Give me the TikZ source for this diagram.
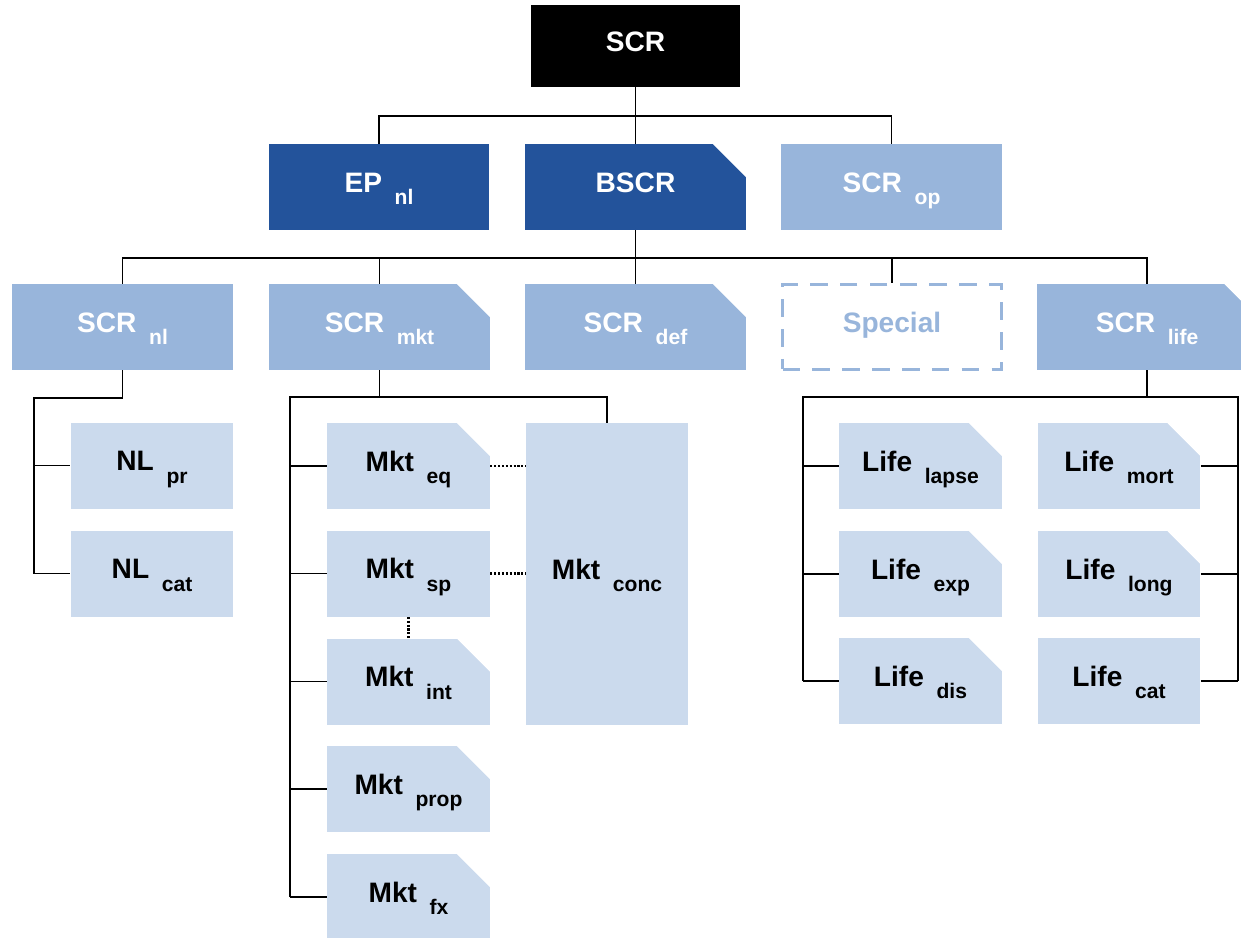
\documentclass[tikz,border=0pt]{standalone}
\usepackage{fontspec}
\setmainfont{Liberation Sans}
\usepackage{tikz}
\usetikzlibrary{calc}

\definecolor{darkblue}{RGB}{35,83,155}
\definecolor{midblue}{RGB}{152,181,219}
\definecolor{lightblue}{RGB}{203,218,237}

% lowered index after a label
\newcommand{\lowsub}[1]{\hspace{0.45em}\raisebox{-7pt}[0pt][0pt]{\fontsize{12}{14}\selectfont #1}}

\begin{document}
\begin{tikzpicture}[x=0.02cm, y=-0.02cm,
    box/.style={inner sep=0pt, text height=12pt, text depth=6pt,
        font=\bfseries\fontsize{16}{19}\selectfont},
    wide/.style={box, minimum width=4.42cm, minimum height=1.72cm},
    leaf/.style={box, fill=lightblue, minimum width=3.26cm, minimum height=1.72cm},
    dogear/.style={path picture={\fill[white]
        ([xshift=-0.66cm]path picture bounding box.north east)
        -- (path picture bounding box.north east)
        -- ([yshift=-0.66cm]path picture bounding box.north east) -- cycle;}},
    link/.style={line width=0.8pt, black},
    dots/.style={line width=1.2pt, densely dotted}]
            \useasboundingbox (0,0) rectangle (1241,937);

            % Top of the tree
            \node[box, fill=black, text=white, minimum width=4.18cm, minimum height=1.64cm] (scr) at (635.5,46) {SCR};

            % Second row
            \node[wide, fill=darkblue, text=white] (ep) at (379,187) {EP\lowsub{nl}};
            \node[wide, fill=darkblue, text=white, dogear] (bscr) at (635.5,187) {BSCR};
            \node[wide, fill=midblue, text=white] (op) at (891.5,187) {SCR\lowsub{op}};

            % Third row
            \node[wide, fill=midblue, text=white] (nl) at (122.5,327) {SCR\lowsub{nl}};
            \node[wide, fill=midblue, text=white, dogear] (mkt) at (379.5,327) {SCR\lowsub{mkt}};
            \node[wide, fill=midblue, text=white, dogear] (def) at (635.5,327) {SCR\lowsub{def}};
            \node[box, draw=midblue, line width=2pt, dash pattern=on 10pt off 7pt, text=midblue,
                minimum width=4.38cm, minimum height=1.70cm] (special) at (892,327) {Special};
            \node[wide, fill=midblue, text=white, dogear] (life) at (1147,327) {SCR\lowsub{life}};

            % Non-life modules
            \node[leaf] (nlpr) at (152,465.5) {NL\lowsub{pr}};
            \node[leaf] (nlcat) at (152,573.5) {NL\lowsub{cat}};

            % Market modules
            \node[leaf, dogear] (mkteq) at (408.5,466) {Mkt\lowsub{eq}};
            \node[leaf] (mktsp) at (408.5,573.5) {Mkt\lowsub{sp}};
            \node[leaf, dogear] (mktint) at (408.5,681.5) {Mkt\lowsub{int}};
            \node[leaf, dogear] (mktprop) at (408.5,789) {Mkt\lowsub{prop}};
            \node[leaf, dogear] (mktfx) at (408.5,897) {Mkt\lowsub{fx}};
            \node[leaf, minimum height=6.04cm] (mktconc) at (607,574) {Mkt\lowsub{conc}};

            % Life modules
            \node[leaf, dogear] (lifelapse) at (920.5,466) {Life\lowsub{lapse}};
            \node[leaf, dogear] (lifeexp) at (920.5,574) {Life\lowsub{exp}};
            \node[leaf, dogear] (lifedis) at (920.5,681) {Life\lowsub{dis}};
            \node[leaf, dogear] (lifemort) at (1119,466) {Life\lowsub{mort}};
            \node[leaf, dogear] (lifelong) at (1119,574) {Life\lowsub{long}};
            \node[leaf] (lifecat) at (1119,681) {Life\lowsub{cat}};

            % Bus lines
            \coordinate (bus1) at (635.5,116);
            \coordinate (bus2) at (635.5,258);
            \coordinate (busnl) at (34,398);
            \coordinate (busmkt) at (290,397);
            \coordinate (buslife) at (803,397);
            \coordinate (buslifer) at (1238,397);

            % SCR to second row
            \draw[link] (scr.south) -- (bus1);
            \draw[link] (ep.north) -- (ep.north |- bus1) -- (op.north |- bus1) -- (op.north);
            \draw[link] (bus1) -- (bscr.north);

            % BSCR to third row
            \draw[link] (bscr.south) -- (bus2);
            \draw[link] (nl.north) -- (nl.north |- bus2) -- (life.north |- bus2) -- (life.north);
            \draw[link] (mkt.north) -- (mkt.north |- bus2);
            \draw[link] (def.north) -- (def.north |- bus2);
            \draw[link] (special.north) -- (special.north |- bus2);

            % Non-life tree
            \draw[link] (nl.south) -- (nl.south |- busnl) -- (busnl) -- (busnl |- nlcat.west) -- (nlcat.west);
            \draw[link] (busnl |- nlpr.west) -- (nlpr.west);

            % Market tree
            \draw[link] (mkt.south) -- (mkt.south |- busmkt);
            \draw[link] (busmkt |- mktfx.west) -- (busmkt) -- (busmkt -| mktconc.north) -- (mktconc.north);
            \foreach \m in {mkteq,mktsp,mktint,mktprop,mktfx}
                \draw[link] (busmkt |- \m.west) -- (\m.west);

            % Life tree
            \draw[link] (life.south) -- (life.south |- buslife);
            \draw[link] (buslife |- lifedis.west) -- (buslife) -- (buslifer) -- (buslifer |- lifecat.east);
            \foreach \m in {lifelapse,lifeexp,lifedis}
                \draw[link] (buslife |- \m.west) -- (\m.west);
            \foreach \m in {lifemort,lifelong,lifecat}
                \draw[link] (\m.east) -- (buslifer |- \m.east);

            % Dotted links between market modules
            \draw[dots] (mkteq.east) -- (mkteq.east -| mktconc.west);
            \draw[dots] (mktsp.east) -- (mktsp.east -| mktconc.west);
            \draw[dots] (mktsp.south) -- (mktint.north);
        \end{tikzpicture}
\end{document}
